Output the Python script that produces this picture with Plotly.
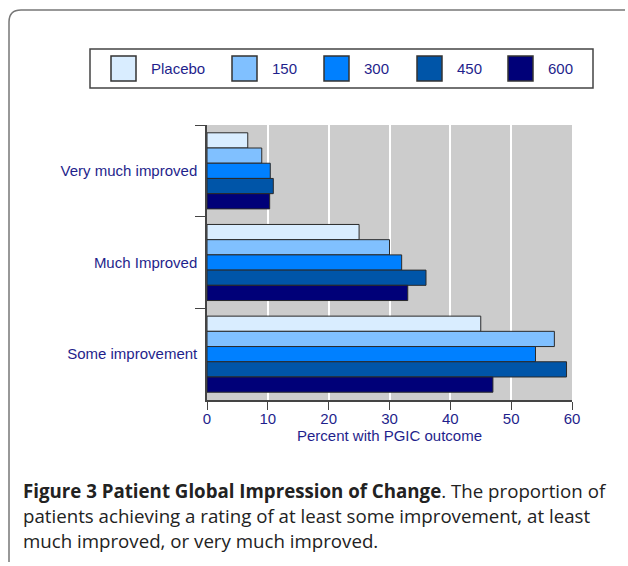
import plotly.graph_objects as go

# -- dados (percentual com cada desfecho PGIC)
categorias = ['Very much improved', 'Much Improved', 'Some improvement']
grupos = ['Placebo', '150', '300', '450', '600']
placebo = [6.7, 25.0, 45.0]
dose_150 = [9.0, 30.0, 57.1]
dose_300 = [10.4, 32.0, 54.0]
dose_450 = [10.9, 36.0, 59.1]
dose_600 = [10.3, 33.0, 47.0]
valores = [placebo, dose_150, dose_300, dose_450, dose_600]
cores = ['#d9edff', '#80c0ff', '#0080ff', '#0055a8', '#000078']

W, H = 628, 566
L, R, T, B = 207, 56, 125, 166
azul_texto = '#1f1f8c'


def px_x(px):
	return (px - L) / (W - L - R)


def px_y(py):
	return 1 - (py - T) / (H - T - B)


fig = go.Figure()
for nome, vals, cor in zip(grupos, valores, cores):
	fig.add_trace(go.Bar(
		y=categorias, x=vals, name=nome, orientation='h',
		marker=dict(color=cor, line=dict(color='#2a2a2a', width=1)),
		showlegend=False
	))

fig.update_layout(
	width=W, height=H,
	margin=dict(l=L, r=R, t=T, b=B),
	barmode='group', bargap=0.17, bargroupgap=0,
	plot_bgcolor='#cccccc', paper_bgcolor='white',
	font=dict(family='Liberation Sans, Arial', size=15, color=azul_texto),
	xaxis=dict(
		range=[0, 60], dtick=10, showgrid=True, gridcolor='white', gridwidth=2,
		zeroline=False, showline=True, linecolor='#444', linewidth=1.5,
		ticks='outside', ticklen=8, tickcolor='#444', ticklabelstandoff=-4,
		title=dict(text='Percent with PGIC outcome', standoff=0, font=dict(size=15))
	),
	yaxis=dict(
		autorange='reversed', showline=True, linecolor='#444', linewidth=1.5,
		ticks='outside', ticklen=10, tickcolor='#444', tickson='boundaries',
		ticklabelstandoff=5, showgrid=False
	),
)

# -- legenda desenhada à mão (quadrados grandes como na figura)
shapes = [dict(type='rect', xref='paper', yref='paper',
			   x0=px_x(90), x1=px_x(593), y0=px_y(49), y1=px_y(88),
			   line=dict(color='#444', width=1.5), fillcolor='white')]
anns = []
swatch_x = [111, 232, 324, 417, 508]
for nome, cor, sx in zip(grupos, cores, swatch_x):
	shapes.append(dict(type='rect', xref='paper', yref='paper',
					   x0=px_x(sx), x1=px_x(sx + 25), y0=px_y(56), y1=px_y(81),
					   line=dict(color='#333', width=1.5), fillcolor=cor))
	anns.append(dict(text=nome, xref='paper', yref='paper', x=px_x(sx + 38), y=px_y(68.5),
					 xanchor='left', yanchor='middle', showarrow=False,
					 font=dict(size=15, color=azul_texto)))

# -- moldura externa com canto arredondado
x9, x625, y10, y562 = px_x(9), px_x(625), px_y(10), px_y(562)
shapes.append(dict(type='path', xref='paper', yref='paper',
				   path=f'M {x9},{y562} L {x9},{px_y(22)} Q {x9},{y10} {px_x(21)},{y10} L {x625},{y10}',
				   line=dict(color='#777', width=1.5)))

# -- legenda da figura
legenda = [
	'<b>Figure 3 Patient Global Impression of Change</b>. The proportion of',
	'patients achieving a rating of at least some improvement, at least',
	'much improved, or very much improved.',
]
for i, linha in enumerate(legenda):
	anns.append(dict(text=linha, xref='paper', yref='paper', x=px_x(21), y=px_y(490 + 25 * i),
					 xanchor='left', yanchor='middle', showarrow=False,
					 font=dict(family='Open Sans', size=18.7, color='#222')))

fig.update_layout(shapes=shapes, annotations=anns)
fig.write_html('out.html', config={'displayModeBar': False},
			   post_script="document.body.style.margin='0px';")
